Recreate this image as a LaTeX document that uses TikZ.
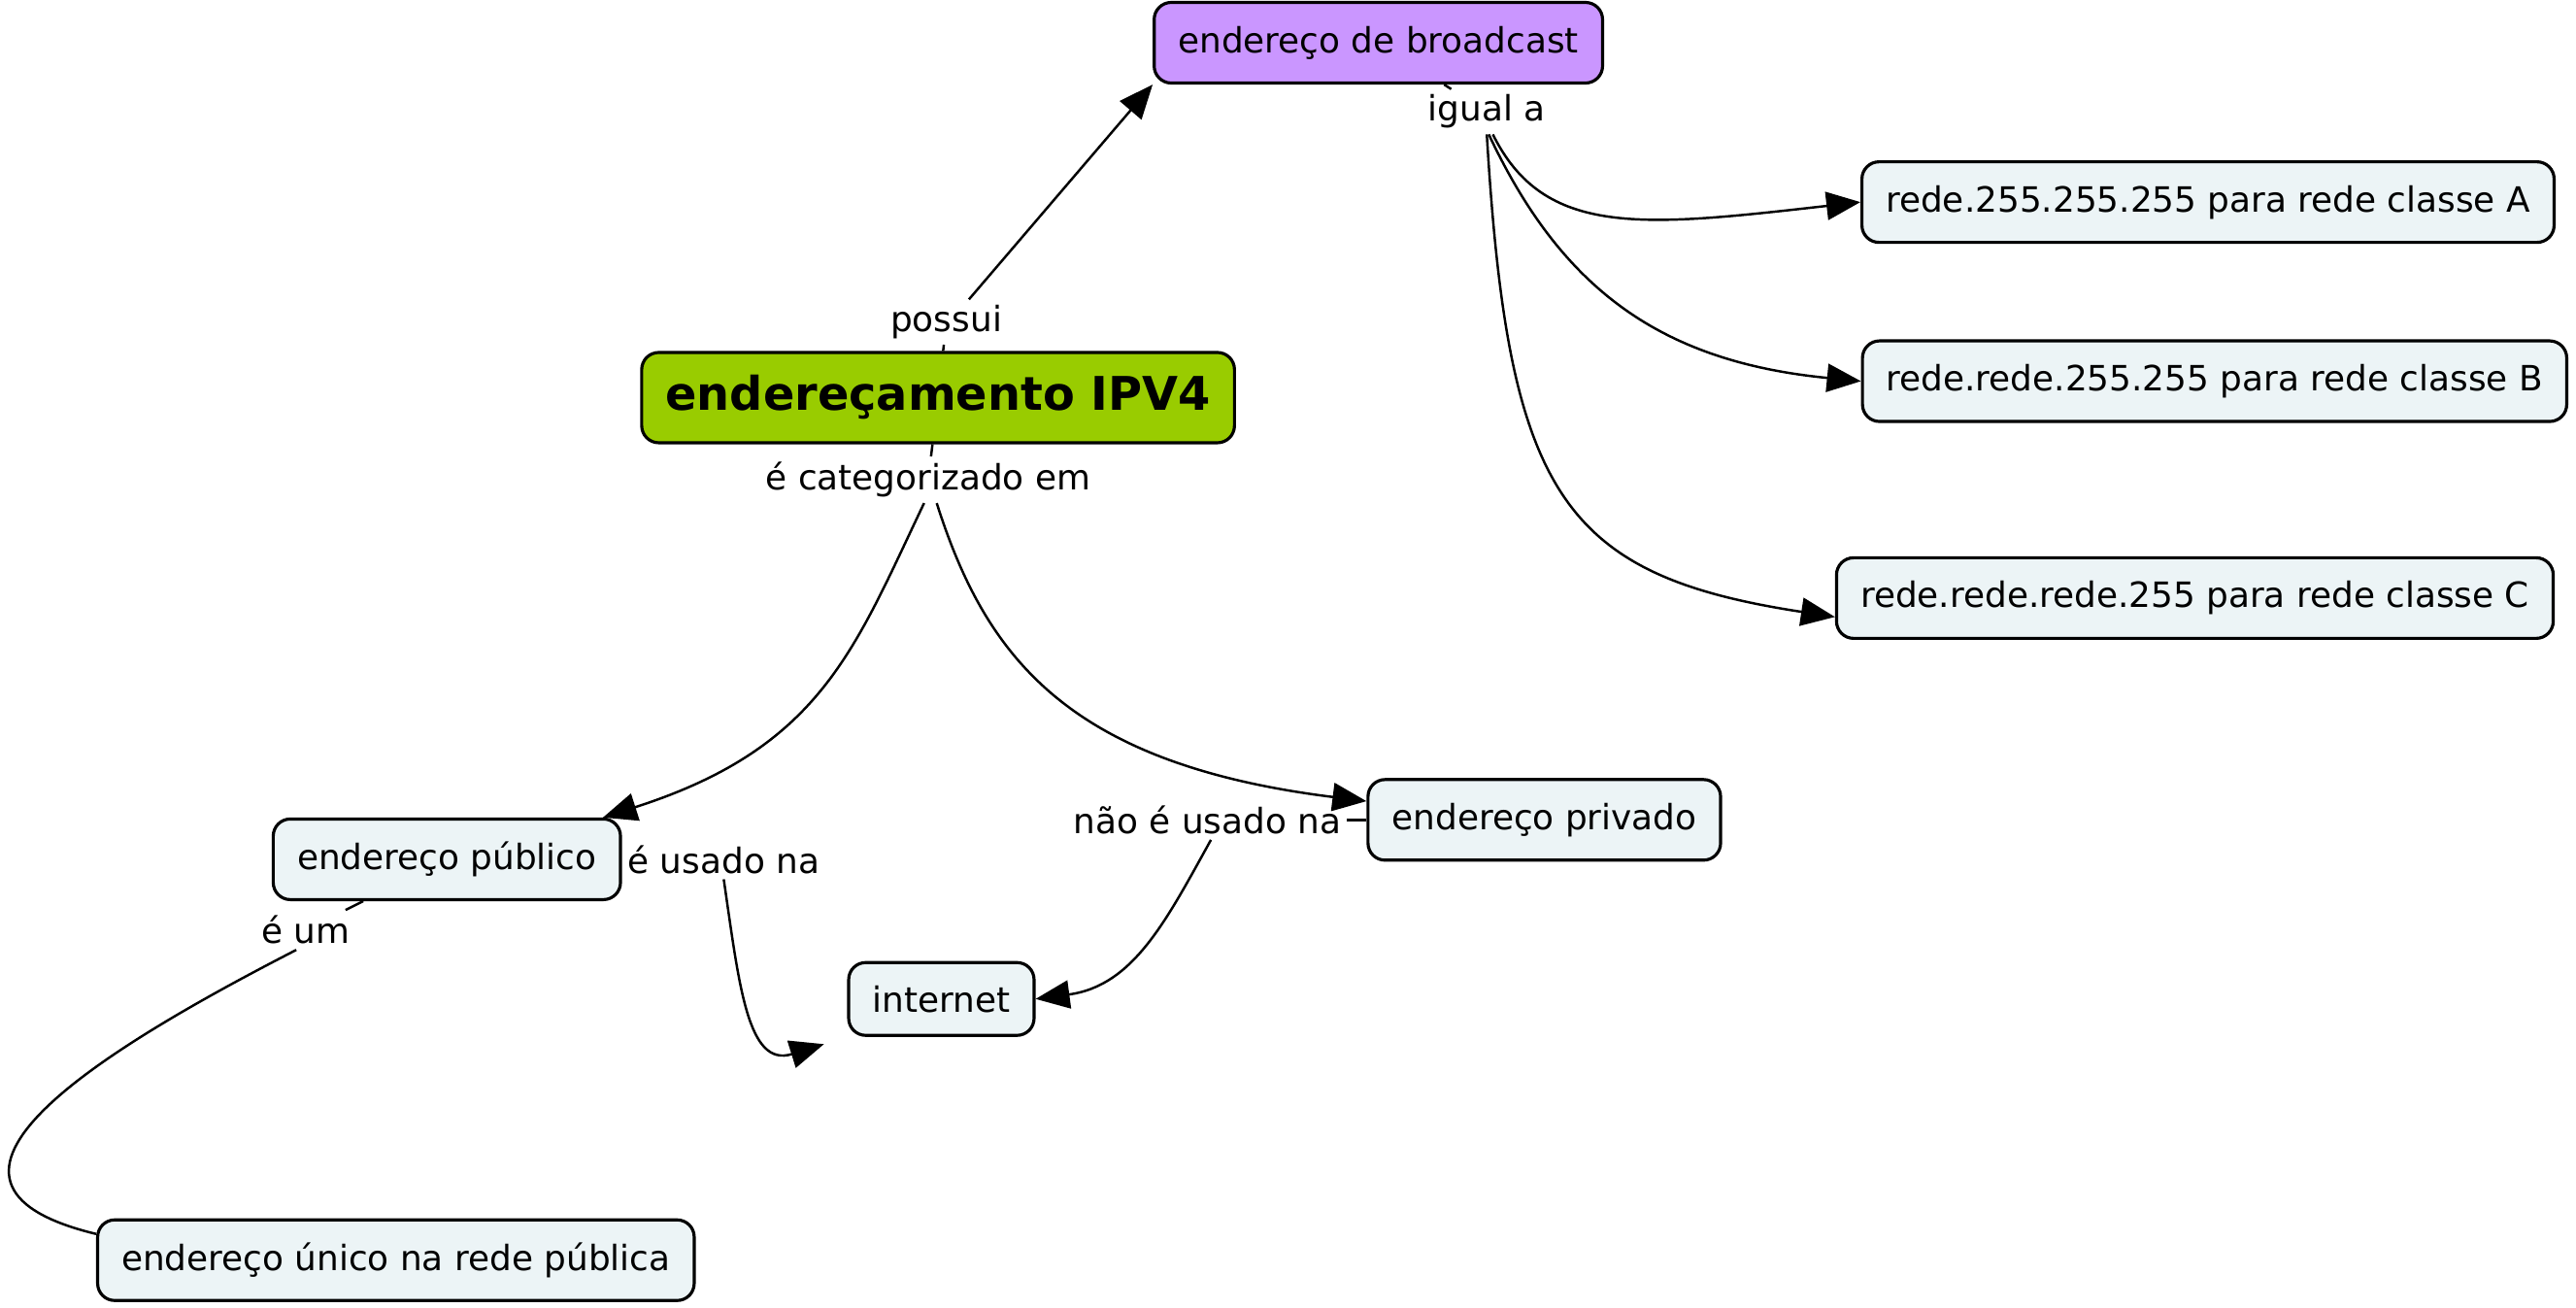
\documentclass[tikz,border=0pt]{standalone}
\usepackage{fontspec}
\setmainfont{DejaVu Sans}
\usetikzlibrary{positioning,arrows.meta}
\definecolor{conceptfill}{RGB}{236,244,246}
\definecolor{bcastfill}{RGB}{202,150,255}
\definecolor{ipvfill}{RGB}{153,204,0}

\begin{document}
\begin{tikzpicture}[x=0.1692mm,y=-0.1692mm,
     conceptnode/.style = {draw=black, line width=0.9pt, rounded corners=5pt, fill=conceptfill,
                           minimum height=8.3mm, inner xsep=7pt, font=\fontsize{10.2}{12}\selectfont},
     linknode/.style = {inner sep=1.5pt, font=\fontsize{10.2}{12}\selectfont},
     arrowline/.style = {line width=0.7pt, -{Triangle[length=3.5mm,width=2.9mm]}},
     plainline/.style = {line width=0.7pt}]
     \useasboundingbox (0,0) rectangle (1568,796);

     % concepts
     \node[conceptnode, fill=ipvfill, minimum height=9.3mm, font=\fontsize{13.6}{16}\selectfont\bfseries] (ipv4) at (571,242) {endereçamento IPV4};
     \node[conceptnode, fill=bcastfill] (bcast) at (839,26) {endereço de broadcast};
     \node[conceptnode] (clA) at (1344,123) {rede.255.255.255 para rede classe A};
     \node[conceptnode] (clB) at (1348,232) {rede.rede.255.255 para rede classe B};
     \node[conceptnode] (clC) at (1336,364) {rede.rede.rede.255 para rede classe C};
     \node[conceptnode] (priv) at (940,499) {endereço privado};
     \node[conceptnode] (pub) at (272,523) {endereço público};
     \node[conceptnode, minimum height=7.5mm] (inet) at (573,608) {internet};
     \node[conceptnode] (unico) at (241,767) {endereço único na rede pública};

     % linking phrases
     \node[linknode] (possui) at (576,196) {possui};
     \node[linknode] (igual) at (905,68) {igual a};
     \node[linknode] (categ) at (565,292) {é categorizado em};
     \node[linknode] (usado) [right=0pt of pub] {é usado na};
     \node[linknode] (naousado) [left=2mm of priv] {não é usado na};
     \node[linknode] (eum) at (186,566) {é um};

     % connectors
     \draw[plainline] (ipv4) -- (possui);
     \draw[arrowline] (possui.45) -- (bcast.south west);
     \draw[plainline] (bcast) -- (igual);
     \draw[arrowline] (igual.-75) .. controls (940,145) and (1000,138) .. (clA.west);
     \draw[arrowline] (igual.-85) .. controls (950,175) and (1010,220) .. (clB.west);
     \draw[arrowline] (igual.south) .. controls (918,300) and (950,350) .. (clC.183);
     \draw[plainline] (ipv4) -- (categ);
     \draw[arrowline] (categ.-100) .. controls (520,395) and (500,455) .. (pub.15);
     \draw[arrowline] (categ.-70) .. controls (600,400) and (650,465) .. (priv.174);
     \draw[arrowline, shorten >=2.5mm] (usado.south) .. controls (450,600) and (455,650) .. (inet.south west);
     \draw[plainline] (naousado) -- (priv);
     \draw[arrowline] (naousado.-80) .. controls (710,560) and (690,600) .. (inet.east);
     \draw[plainline] (eum) -- (pub);
     \draw[plainline] (eum.-115) .. controls (60,640) and (-70,720) .. (unico.175);
\end{tikzpicture}
\end{document}
